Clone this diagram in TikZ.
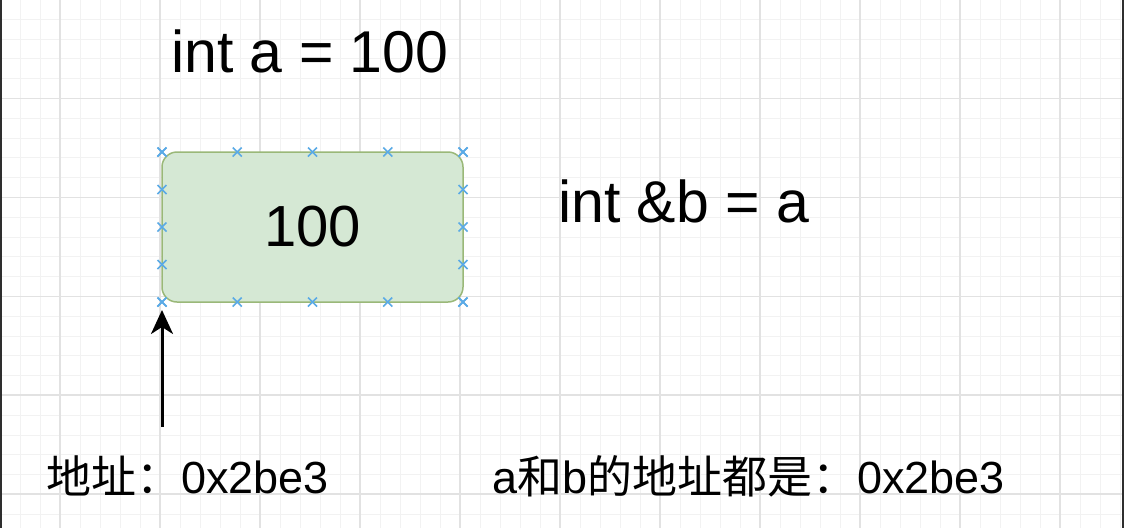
\documentclass[tikz,border=0pt]{standalone}
\usepackage{fontspec}
\setmainfont{Liberation Sans}
\newfontfamily\cjk{Noto Sans CJK SC}
\usetikzlibrary{calc,arrows.meta}
\definecolor{boxfill}{HTML}{D5E8D4}
\definecolor{boxline}{HTML}{9AB878}
\definecolor{xblue}{HTML}{5AAAE6}
\definecolor{gridminor}{HTML}{F2F2F2}
\definecolor{gridmajor}{HTML}{E2E2E2}
\definecolor{framecol}{HTML}{2E2E2E}
\tikzset{
  minorline/.style={draw=gridminor, line width=0.8pt},
  majorline/.style={draw=gridmajor, line width=1.2pt},
  membox/.style={draw=boxline, fill=boxfill, line width=1.5pt, rounded corners=15pt,
    minimum width=301pt, minimum height=150pt, inner sep=0pt, outer sep=0pt,
    font=\fontsize{58}{66}\selectfont},
  bigtext/.style={anchor=base west, inner sep=0pt, font=\fontsize{59}{68}\selectfont},
  smalltext/.style={anchor=base west, inner sep=0pt, font=\fontsize{45}{54}\selectfont},
  xmk/.style={draw=xblue, line width=1.7pt},
  xcross/.pic={\draw[xmk] (-4.5,-4.5) -- (4.5,4.5) (-4.5,4.5) -- (4.5,-4.5);},
  arr/.style={draw=black, line width=3pt, -{Stealth[length=24pt,width=22pt,inset=7pt]}}
}
\begin{document}
\begin{tikzpicture}[x=1pt,y=-1pt]
  % background
  \fill[white] (0,0) rectangle (1124,528);
  \useasboundingbox (0,0) rectangle (1124,528);
  % grid
  \foreach \i in {0,...,56} {
    \draw[minorline] ({20*\i},0) -- ({20*\i},528);
  }
  \foreach \i in {0,...,27} {
    \draw[minorline] (0,{-0.7+19.8*\i}) -- (1124,{-0.7+19.8*\i});
  }
  \foreach \i in {0,...,10} {
    \draw[majorline] ({60+100*\i},0) -- ({60+100*\i},528);
  }
  \foreach \i in {0,...,4} {
    \draw[majorline] (0,{98.3+98.9*\i}) -- (1124,{98.3+98.9*\i});
  }
  % frame strips
  \fill[framecol] (0,0) rectangle (2.2,528);
  \fill[framecol] (1121.5,0) rectangle (1124,528);

  % texts
  \node[bigtext] (deca) at (171,72) {int a = 100};
  \node[bigtext] (decb) at (558,222) {int \&b = a};

  % memory box
  \node[membox] (mem) at (312.5,227) {100};

  % connection markers
  \foreach \f in {0,0.25,0.5,0.75,1} {
    \pic at ($(mem.north west)!\f!(mem.north east)$) {xcross};
    \pic at ($(mem.south west)!\f!(mem.south east)$) {xcross};
    \pic at ($(mem.north west)!\f!(mem.south west)$) {xcross};
    \pic at ($(mem.north east)!\f!(mem.south east)$) {xcross};
  }

  % arrow
  \coordinate (src) at (162,427);
  \draw[arr, shorten >=8pt] (src) -- (mem.south west);

  % bottom labels
  \node[smalltext] (addr) at (46,493) {{\cjk 地址：}0x2be3};
  \node[smalltext] (same) at (492,493) {a{\cjk 和}b{\cjk 的地址都是：}0x2be3};
\end{tikzpicture}
\end{document}
